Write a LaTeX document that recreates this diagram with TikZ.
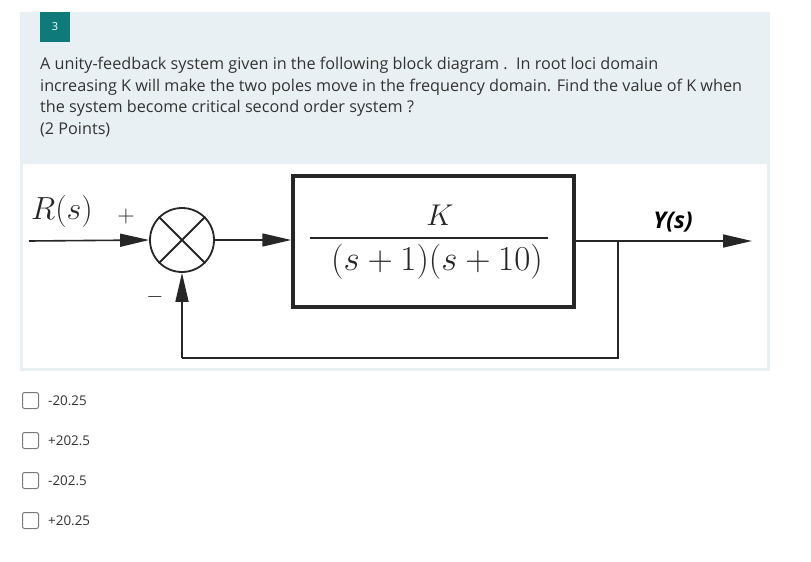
\documentclass[tikz,border=0pt]{standalone}
\usepackage{fix-cm}
\usepackage{fontspec}
\setmainfont{Open Sans}
\usetikzlibrary{arrows.meta}
\definecolor{panel}{HTML}{E9F0F3}
\definecolor{badge}{HTML}{0E7A7A}
\definecolor{txt}{HTML}{333333}
\definecolor{boxgray}{HTML}{7A7A7A}
\tikzset{
  sig/.style={line width=1.6pt, draw=black!85},
  arr/.style={sig, -{Triangle[length=29pt,width=13pt]}},
  qtext/.style={anchor=west, inner sep=0pt, text=txt, font=\fontsize{16.2}{19}\selectfont},
  opt/.style={anchor=west, inner sep=0pt, text=txt, font=\fontsize{13.4}{16}\selectfont},
  cbox/.style={draw=boxgray, line width=1pt, rounded corners=2pt, minimum size=16pt, inner sep=0pt},
  mathlbl/.style={inner sep=0pt, text=black!85},
}
\begin{document}
\begin{tikzpicture}[x=1pt,y=-1pt]
\useasboundingbox (0,0) rectangle (811,562);
\fill[white] (0,0) rectangle (811,562);
% panel
\fill[panel] (20,12) rectangle (770,371);
\fill[white] (23,164) rectangle (767,368);
% badge
\fill[badge] (40,12) rectangle (70,42);
\node[text=white, font=\fontsize{11}{13}\selectfont, inner sep=0pt] (num) at (55,27) {3};
% question text
\node[qtext] (l1) at (40,65) {A unity-feedback system given in the following block diagram .\ \ In root loci domain};
\node[qtext] (l2) at (40,87) {increasing K will make the two poles move in the frequency domain. Find the value of K when};
\node[qtext] (l3) at (40,108) {the system become critical second order system ?};
\node[qtext] (l4) at (40,130) {(2 Points)};
% block diagram
\coordinate (in) at (29,241);
\node[draw=black!85, line width=1.8pt, circle, minimum size=64pt, inner sep=0pt] (sum) at (182,240) {};
\draw[line width=1.8pt, draw=black!85] (sum.north east) -- (sum.south west) (sum.north west) -- (sum.south east);
\node[draw=black!85, line width=3.5pt, minimum width=281pt, minimum height=131pt, inner sep=0pt] (G) at (433.5,241.5) {};
\node[mathlbl, font=\fontsize{30}{33}\selectfont] (K) at (440,215) {$K$};
\node[mathlbl, font=\fontsize{35}{38}\selectfont] (den) at (437,262) {$(s+1)(s+10)$};
\coordinate (fl) at (310,238);
\coordinate (fr) at (548,238);
\draw[line width=1.4pt, draw=black!85] (fl) -- (fr);
\node[mathlbl, font=\fontsize{32}{35}\selectfont] (R) at (62,211) {$R(s)$};
\node[mathlbl, font=\fontsize{24}{26}\selectfont] (plus) at (126,216) {$+$};
\node[mathlbl, font=\fontsize{22}{24}\selectfont] (minus) at (155,297) {$-$};
\node[inner sep=0pt, font=\fontsize{23}{26}\selectfont\bfseries\itshape] (Y) at (673,222) {Y(s)};
\coordinate (br) at (618,241);
\coordinate (out) at (752,241);
\coordinate (bb) at (618,358);
\coordinate (fb) at (182,358);
\draw[arr] (in) -- (sum.west);
\draw[arr] (sum.east) -- (G.west |- sum.east);
\draw[sig] (G.east |- br) -- (br);
\draw[arr] (br) -- (out);
\draw[sig] (br) -- (bb) -- (fb);
\draw[arr] (fb) -- (sum.south);
% options
\node[cbox] (c1) at (30.5,400.5) {};
\node[opt] (o1) at (48,401) {-20.25};
\node[cbox] (c2) at (30.5,440.5) {};
\node[opt] (o2) at (48,441) {+202.5};
\node[cbox] (c3) at (30.5,480.5) {};
\node[opt] (o3) at (48,481) {-202.5};
\node[cbox] (c4) at (30.5,520.5) {};
\node[opt] (o4) at (48,521) {+20.25};
\end{tikzpicture}
\end{document}
